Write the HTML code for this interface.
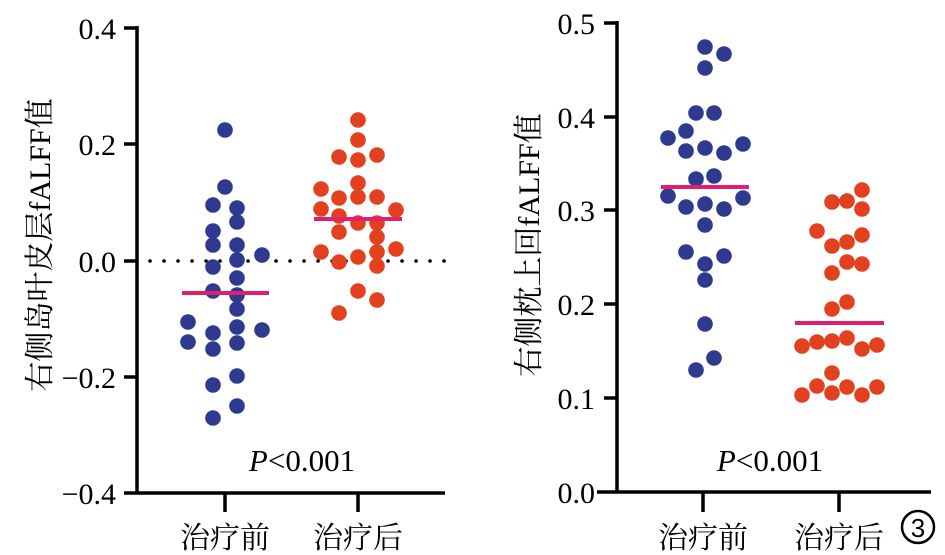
<!DOCTYPE html><html><head><meta charset="utf-8"><style>body{margin:0;background:#fff}svg{display:block}</style></head><body>
<svg width="945" height="555" xmlns="http://www.w3.org/2000/svg" font-family="'Liberation Serif','Noto Serif CJK SC',serif">
<g stroke="#000" stroke-width="3.5" fill="none">
<line x1="137" y1="26" x2="137" y2="494"/>
<line x1="124" y1="493" x2="445" y2="493"/>
<line x1="124" y1="28" x2="137" y2="28"/><line x1="124" y1="144" x2="137" y2="144"/><line x1="124" y1="261" x2="137" y2="261"/><line x1="124" y1="377" x2="137" y2="377"/>
<line x1="225" y1="493" x2="225" y2="512"/><line x1="358" y1="493" x2="358" y2="512"/>
<line x1="617" y1="21" x2="617" y2="493"/>
<line x1="597" y1="492" x2="931" y2="492"/>
<line x1="604" y1="23" x2="617" y2="23"/><line x1="604" y1="117" x2="617" y2="117"/><line x1="604" y1="210" x2="617" y2="210"/><line x1="604" y1="304" x2="617" y2="304"/><line x1="604" y1="398" x2="617" y2="398"/>
<line x1="703" y1="492" x2="703" y2="512"/><line x1="839" y1="492" x2="839" y2="512"/>
</g>
<line x1="150" y1="261" x2="445" y2="261" stroke="#000" stroke-width="3.5" stroke-dasharray="0.1 13.9" stroke-linecap="round"/>
<g font-size="30" text-anchor="end">
<text x="116" y="39">0.4</text><text x="116" y="155">0.2</text><text x="116" y="272">0.0</text><text x="116" y="388">−0.2</text><text x="116" y="504">−0.4</text>
<text x="595" y="34">0.5</text><text x="595" y="128">0.4</text><text x="595" y="221">0.3</text><text x="595" y="315">0.2</text><text x="595" y="409">0.1</text><text x="595" y="503">0.0</text>
</g>
<g font-size="31" text-anchor="middle">
<text x="302" y="471"><tspan font-style="italic">P</tspan>&lt;0.001</text>
<text x="770" y="471"><tspan font-style="italic">P</tspan>&lt;0.001</text>
</g>
<g font-size="30" text-anchor="middle">
<text x="225" y="548">治疗前</text><text x="358" y="548">治疗后</text>
<text x="703" y="548">治疗前</text><text x="839" y="548">治疗后</text>
<text transform="translate(50,245) rotate(-90)">右侧岛叶皮层fALFF值</text>
<text transform="translate(539,245) rotate(-90)">右侧枕上回fALFF值</text>
</g>
<circle cx="918" cy="527" r="16" fill="none" stroke="#000" stroke-width="2.5"/>
<text x="918" y="537" font-size="26" text-anchor="middle" font-family="'Liberation Sans',sans-serif">3</text>
<g fill="#2e3a8f">
<circle cx="225" cy="130" r="7.8"/><circle cx="225" cy="187" r="7.8"/><circle cx="213" cy="205" r="7.8"/><circle cx="237" cy="208" r="7.8"/><circle cx="237" cy="222" r="7.8"/><circle cx="213" cy="231" r="7.8"/><circle cx="213" cy="245" r="7.8"/><circle cx="237" cy="245" r="7.8"/><circle cx="262" cy="255" r="7.8"/><circle cx="237" cy="260" r="7.8"/><circle cx="213" cy="267" r="7.8"/><circle cx="237" cy="278" r="7.8"/><circle cx="213" cy="291" r="7.8"/><circle cx="237" cy="295" r="7.8"/><circle cx="237" cy="309" r="7.8"/><circle cx="188" cy="322" r="7.8"/><circle cx="237" cy="327" r="7.8"/><circle cx="262" cy="330" r="7.8"/><circle cx="188" cy="342" r="7.8"/><circle cx="213" cy="333" r="7.8"/><circle cx="237" cy="343" r="7.8"/><circle cx="213" cy="349" r="7.8"/><circle cx="237" cy="376" r="7.8"/><circle cx="213" cy="385" r="7.8"/><circle cx="237" cy="406" r="7.8"/><circle cx="213" cy="418" r="7.8"/>
<circle cx="705" cy="47" r="7.8"/><circle cx="724" cy="54" r="7.8"/><circle cx="705" cy="68" r="7.8"/><circle cx="696" cy="113" r="7.8"/><circle cx="714" cy="113" r="7.8"/><circle cx="668" cy="138" r="7.8"/><circle cx="686" cy="131" r="7.8"/><circle cx="686" cy="151" r="7.8"/><circle cx="705" cy="148" r="7.8"/><circle cx="724" cy="153" r="7.8"/><circle cx="743" cy="144" r="7.8"/><circle cx="696" cy="179" r="7.8"/><circle cx="714" cy="176" r="7.8"/><circle cx="668" cy="196" r="7.8"/><circle cx="686" cy="207" r="7.8"/><circle cx="705" cy="204" r="7.8"/><circle cx="724" cy="209" r="7.8"/><circle cx="743" cy="198" r="7.8"/><circle cx="705" cy="225" r="7.8"/><circle cx="686" cy="252" r="7.8"/><circle cx="705" cy="264" r="7.8"/><circle cx="724" cy="256" r="7.8"/><circle cx="705" cy="280" r="7.8"/><circle cx="705" cy="324" r="7.8"/><circle cx="714" cy="358" r="7.8"/><circle cx="696" cy="370" r="7.8"/>
</g>
<g fill="#e2401e">
<circle cx="358" cy="120" r="7.8"/><circle cx="358" cy="140" r="7.8"/><circle cx="339" cy="157" r="7.8"/><circle cx="358" cy="160" r="7.8"/><circle cx="377" cy="155" r="7.8"/><circle cx="358" cy="183" r="7.8"/><circle cx="321" cy="189" r="7.8"/><circle cx="339" cy="198" r="7.8"/><circle cx="358" cy="197" r="7.8"/><circle cx="377" cy="197" r="7.8"/><circle cx="321" cy="209" r="7.8"/><circle cx="396" cy="210" r="7.8"/><circle cx="339" cy="216" r="7.8"/><circle cx="358" cy="223" r="7.8"/><circle cx="377" cy="223" r="7.8"/><circle cx="339" cy="232" r="7.8"/><circle cx="377" cy="237" r="7.8"/><circle cx="321" cy="252" r="7.8"/><circle cx="377" cy="252" r="7.8"/><circle cx="396" cy="249" r="7.8"/><circle cx="339" cy="262" r="7.8"/><circle cx="358" cy="257" r="7.8"/><circle cx="377" cy="266" r="7.8"/><circle cx="358" cy="291" r="7.8"/><circle cx="377" cy="300" r="7.8"/><circle cx="339" cy="313" r="7.8"/>
<circle cx="862" cy="190" r="7.8"/><circle cx="832" cy="202" r="7.8"/><circle cx="847" cy="201" r="7.8"/><circle cx="862" cy="209" r="7.8"/><circle cx="817" cy="231" r="7.8"/><circle cx="832" cy="246" r="7.8"/><circle cx="847" cy="242" r="7.8"/><circle cx="862" cy="235" r="7.8"/><circle cx="832" cy="273" r="7.8"/><circle cx="847" cy="262" r="7.8"/><circle cx="862" cy="264" r="7.8"/><circle cx="832" cy="309" r="7.8"/><circle cx="847" cy="302" r="7.8"/><circle cx="802" cy="346" r="7.8"/><circle cx="817" cy="342" r="7.8"/><circle cx="832" cy="341" r="7.8"/><circle cx="847" cy="338" r="7.8"/><circle cx="862" cy="349" r="7.8"/><circle cx="877" cy="345" r="7.8"/><circle cx="832" cy="373" r="7.8"/><circle cx="802" cy="395" r="7.8"/><circle cx="817" cy="386" r="7.8"/><circle cx="832" cy="393" r="7.8"/><circle cx="847" cy="387" r="7.8"/><circle cx="862" cy="395" r="7.8"/><circle cx="877" cy="387" r="7.8"/>
</g>
<g stroke="#e0206e" stroke-width="4">
<line x1="182" y1="293" x2="269" y2="293"/><line x1="314" y1="219" x2="402" y2="219"/>
<line x1="661" y1="187" x2="749" y2="187"/><line x1="795" y1="323" x2="884" y2="323"/>
</g>
</svg>
</body></html>
